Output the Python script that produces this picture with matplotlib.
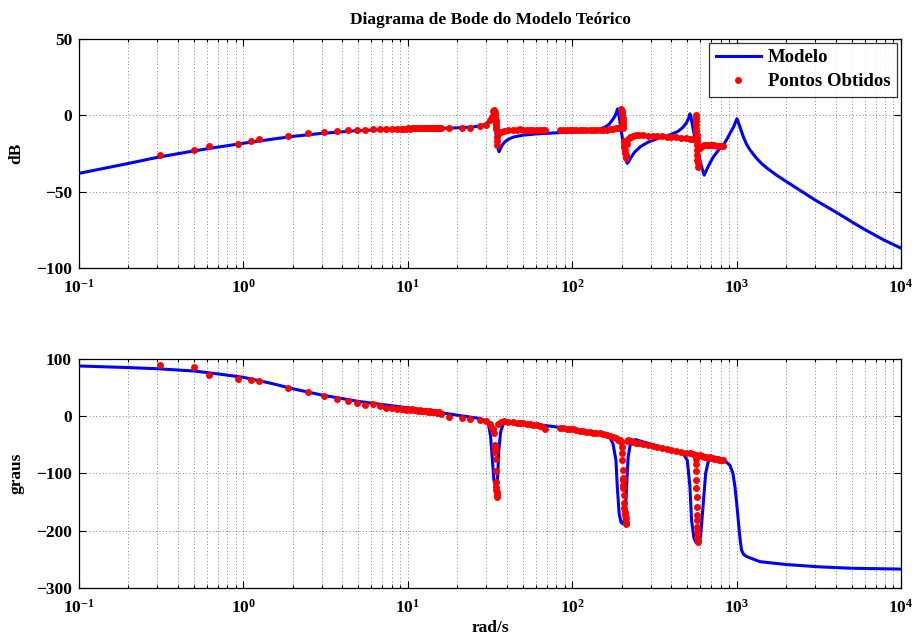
import matplotlib
matplotlib.use('Agg')
import matplotlib.pyplot as plt
from matplotlib.ticker import LogLocator, NullFormatter, FixedLocator, FixedFormatter

plt.rcParams['font.family'] = ['Liberation Serif', 'DejaVu Serif']
plt.rcParams['font.weight'] = 'bold'
plt.rcParams['mathtext.fontset'] = 'custom'
plt.rcParams['mathtext.rm'] = 'Liberation Serif:bold'
plt.rcParams['mathtext.bf'] = 'Liberation Serif:bold'
plt.rcParams['mathtext.it'] = 'Liberation Serif:bold'
plt.rcParams['mathtext.default'] = 'rm'
plt.rcParams['axes.unicode_minus'] = True

# ---------------- data ----------------
title = 'Diagrama de Bode do Modelo Teórico'
ylabel_mag = 'dB'
ylabel_ph = 'graus'
xlabel = 'rad/s'
legend_labels = ['Modelo', 'Pontos Obtidos']

model_w_mag = [0.1, 0.2, 0.3, 0.5, 0.7, 1.0, 1.5, 2.0, 3.0, 5.0, 7.0, 10, 15, 20, 25, 28, 30,
               31.5, 32.3, 32.8, 33.1, 33.4, 33.8, 34.3, 34.8, 35.3, 35.9, 36.5, 37.5, 39, 41,
               44, 50, 60, 75, 90, 110, 130, 145, 158, 168, 177, 182, 186, 188.5, 191, 195,
               200, 206, 212, 216, 220, 228, 240, 260, 290, 340, 400, 440, 470, 495, 510,
               520, 527, 540, 560, 585, 610, 635, 655, 690, 722, 780, 829, 880, 920, 955,
               985, 1005, 1020, 1048, 1098, 1150, 1206, 1270, 1324, 1420, 1524, 1750, 2000,
               3006, 4036, 5026, 6064, 7910, 10000]
model_db = [-38.0, -31.5, -27.5, -23.3, -20.8, -18.3, -15.6, -13.8, -11.8, -10.0, -9.4, -8.9,
            -8.6, -8.2, -7.6, -6.8, -5.5, -3.5, -1.0, 1.5, 3.0, 1.5, -4.0, -11.0, -17.0, -21.5,
            -23.8, -22.0, -19.5, -17.3, -15.6, -14.2, -13.0, -12.2, -11.6, -11.2, -10.8, -10.2,
            -9.2, -7.8, -5.8, -2.5, -0.5, 2.0, 4.2, 2.0, -4.0, -12.0, -21.0, -28.0, -31.5,
            -30.5, -27.5, -24.0, -20.5, -17.5, -14.8, -12.5, -10.5, -8.0, -5.0, -2.0, 1.0,
            -0.5, -7.0, -16.0, -25.0, -33.0, -39.2, -36.0, -31.0, -27.2, -22.5, -19.6, -15.0,
            -11.0, -8.0, -4.5, -2.2, -4.0, -7.6, -14.0, -19.0, -22.6, -25.8, -28.2, -31.6,
            -34.4, -39.2, -43.3, -55.5, -63.5, -69.8, -75.0, -81.8, -87.0]

model_w_ph = [0.1, 0.2, 0.3, 0.5, 0.7, 1.0, 1.5, 2.0, 3.0, 5.0, 6.8, 10.8, 17.2, 27.5, 30.0,
              30.9, 31.9, 32.6, 33.4, 34.4, 35.2, 35.8, 36.7, 38, 41.8, 55, 70, 88, 110, 134,
              155, 169, 177, 184.5, 188, 193, 198, 203, 208, 210, 214, 219, 226, 241, 280,
              341, 420, 473, 501, 520, 532, 550, 565, 576, 590, 604, 627, 648, 671, 720, 780,
              829, 910, 950, 977, 1000, 1023, 1050, 1072, 1100, 1150, 1386, 2000, 3162, 5000,
              10000]
model_deg = [87.8, 85.0, 83.0, 79.0, 74.0, 68.0, 57.0, 48.0, 37.0, 26.0, 21.0, 13.4, 4.7, -4.0,
             -8.0, -12.8, -36.0, -71.0, -111.6, -128.0, -106.0, -59.0, -27.3, -14.0, -10.0,
             -12.8, -16.5, -20.3, -24.5, -27.3, -32.0, -37.2, -47.7, -76.7, -123.0, -170.0,
             -185.0, -188.0, -180.0, -175.6, -123.0, -71.0, -47.7, -40.7, -46.0, -53.5, -60.0,
             -65.0, -76.7, -123.0, -181.0, -213.0, -220.0, -222.0, -218.0, -210.5, -152.0,
             -100.0, -80.0, -71.0, -72.5, -75.6, -85.5, -100.0, -123.0, -150.0, -181.0, -215.0,
             -234.0, -241.0, -245.0, -254.0, -259.0, -263.0, -265.5, -267.0]

pts_w = [0.313, 0.498, 0.622, 0.929, 1.12, 1.245, 1.87, 2.48, 3.11, 3.71, 4.33, 4.93, 5.52,
         6.14, 6.73, 7.39, 8.0, 8.57,
         9.1, 9.4, 9.7, 10.0, 10.3, 10.6, 10.9, 11.2, 11.5, 11.8, 12.1, 12.4, 12.7, 13.0, 13.3,
         13.6, 13.9, 14.2, 14.5, 14.8, 15.1, 15.4, 15.7, 16.0,
         17.9, 21.5, 23.9, 27.5, 29.9, 31.6, 32.6, 33.1,
         33.5, 33.8, 34.0, 34.1, 34.2, 34.3, 34.4, 34.5, 34.6, 34.7, 34.9, 35.1,
         35.5, 36.7, 38.4, 40.8, 43.8, 46.0, 48.1, 50.5, 52.8, 55.3, 58.0, 60.8, 63.7, 66.0,
         68.3, 84.2, 88.0, 92.4, 96.8, 101.5, 106, 111, 116, 122, 128, 134, 140, 147, 154, 162,
         169, 177, 184, 189, 195,
         199, 200, 201, 202, 203, 203.5, 204, 204.5, 205, 206, 207, 208, 209, 210, 211, 212, 213,
         215, 219, 224, 228, 235, 245, 255, 270, 290, 310, 330, 350, 375, 400, 430, 460, 490,
         520, 545,
         565, 566, 567, 568, 569, 570, 571, 572, 573, 574, 575, 576, 578, 580, 582,
         600, 615, 630, 650, 670, 690, 710, 730, 755, 780, 805, 829]
pts_db = [-26.1, -22.9, -20.3, -18.5, -16.8, -15.7, -13.3, -11.8, -10.9, -10.5, -9.8, -9.6, -9.4,
          -9.2, -9.0, -8.9, -8.9, -8.8,
          -8.8, -8.7, -8.7, -8.6, -8.7, -8.6, -8.5, -8.6, -8.5, -8.5, -8.4, -8.5, -8.4, -8.4,
          -8.3, -8.4, -8.3, -8.3, -8.2, -8.3, -8.2, -8.2, -8.1, -8.2,
          -8.3, -8.2, -8.0, -7.2, -6.1, -3.3, -0.8, 2.6,
          3.3, 2.0, 0.5, -1.5, -3.0, -4.5, -6.0, -7.5, -8.7, -19.6, -16.5, -14.0,
          -12.5, -11.0, -10.5, -9.8, -9.4, -9.3, -9.2, -9.3, -9.4, -9.4, -9.6, -9.5, -9.6, -9.6,
          -9.6, -9.6, -9.7, -9.8, -9.7, -9.6, -9.6, -9.6, -9.5, -9.4, -9.5, -9.6, -9.5, -9.4,
          -9.4, -9.4, -9.2, -8.7, -8.4, -8.0, -7.5,
          4.3, 3.0, 1.5, 0.0, -2.0, -4.0, -5.5, -7.0, -8.0, -17.0, -19.5, -21.0, -23.0, -24.5,
          -26.0, -27.0, -28.0,
          -18.5, -15.2, -14.5, -14.1, -13.5, -13.2, -13.1, -13.2, -13.4, -13.5, -13.6, -13.8,
          -14.0, -14.2, -14.5, -14.8, -15.0, -15.2, -15.5,
          0.0, -2.0, -4.0, -6.5, -9.0, -11.0, -13.0, -15.0, -17.0, -19.6, -22.8, -26.0, -29.0,
          -31.0, -33.7,
          -21.7, -20.0, -19.6, -19.4, -19.3, -19.4, -19.5, -19.6, -19.8, -20.0, -20.0, -20.0]
pts_deg = [89.5, 86.0, 72.0, 64.4, 62.7, 61.0, 48.7, 41.7, 35.3, 30.6, 27.1, 23.0, 19.5,
           21.3, 17.8, 14.9, 13.8, 12.6,
           12.0, 13.5, 11.5, 12.5, 10.8, 11.8, 10.2, 11.0, 9.6, 10.4, 9.0, 9.8, 8.5, 9.2, 7.8,
           8.6, 7.2, 8.0, 6.6, 7.4, 6.0, 6.8, 5.0, 4.5,
           -1.0, -3.0, -4.0, -6.0, -8.0, -14.0, -20.0, -21.5,
           -30.0, -51.0, -57.0, -62.0, -74.0, -95.0, -115.0, -123.0, -128.0, -132.0, -137.0,
           -141.0,
           -12.8, -10.0, -8.7, -9.3, -10.5, -11.0, -11.6, -12.2, -12.8, -13.6, -14.5, -15.8,
           -17.4, -19.0, -23.0, -19.8, -20.6, -21.5, -22.2, -23.0, -24.0, -25.0, -25.8, -26.7,
           -27.6, -28.5, -29.2, -30.0, -31.5, -33.0, -34.5, -36.0, -38.5, -40.7, -42.0,
           -45.0, -53.5, -65.0, -77.0, -94.0, -108.7, -111.6, -120.0, -126.0, -138.0, -152.0,
           -161.0, -167.0, -172.7, -178.5, -184.0, -188.0,
           -44.0, -42.0, -43.0, -44.0, -45.0, -46.0, -47.0, -48.0, -50.0, -52.0, -53.0, -55.0,
           -57.0, -58.5, -60.0, -62.0, -63.5, -65.0, -66.0,
           -68.0, -74.0, -82.6, -95.0, -111.6, -125.0, -141.0, -158.0, -172.7, -181.0, -193.0,
           -202.0, -210.5, -216.0, -219.0,
           -68.0, -70.0, -71.0, -72.0, -73.0, -72.0, -73.5, -74.0, -75.0, -76.0, -76.5, -77.0]

xticks = [1e-1, 1e0, 1e1, 1e2, 1e3, 1e4]
xticklabels = [r'$10^{-1}$', r'$10^{0}$', r'$10^{1}$', r'$10^{2}$', r'$10^{3}$', r'$10^{4}$']
yticks_mag = [-100, -50, 0, 50]
yticks_ph = [-300, -200, -100, 0, 100]

# ---------------- figure ----------------
W, H = 913, 641
fig = plt.figure(figsize=(W / 100, H / 100), dpi=100)
ax1 = fig.add_axes([79 / W, 1 - 268 / H, 822 / W, 229 / H])
ax2 = fig.add_axes([79 / W, 1 - 588 / H, 822 / W, 229 / H])

line_kw = dict(color=(0, 0, 1), lw=2.2, zorder=3)
pt_kw = dict(color=(1, 0, 0), marker='o', ls='none', ms=5.0, mew=0, zorder=4)

ax1.semilogx(model_w_mag, model_db, label=legend_labels[0], **line_kw)
ax1.semilogx(pts_w, pts_db, label=legend_labels[1], **pt_kw)
ax2.semilogx(model_w_ph, model_deg, **line_kw)
ax2.semilogx(pts_w, pts_deg, **pt_kw)

for ax, yt in ((ax1, yticks_mag), (ax2, yticks_ph)):
    ax.set_xlim(xticks[0], xticks[-1])
    ax.set_ylim(yt[0], yt[-1])
    ax.xaxis.set_major_locator(FixedLocator(xticks))
    ax.xaxis.set_major_formatter(FixedFormatter(xticklabels))
    ax.xaxis.set_minor_locator(LogLocator(base=10, subs=range(2, 10), numticks=20))
    ax.xaxis.set_minor_formatter(NullFormatter())
    ax.set_yticks(yt)
    ax.tick_params(which='both', direction='in', top=True, right=True, labelsize=12.5,
                   width=0.8)
    ax.tick_params(axis='x', which='major', pad=8)
    ax.tick_params(axis='y', which='major', pad=5)
    ax.tick_params(which='major', length=5)
    ax.tick_params(which='minor', length=2.5)
    for lab in ax.get_xticklabels() + ax.get_yticklabels():
        lab.set_fontweight('bold')
    ax.grid(True, which='major', axis='both', color='0.35', lw=0.6, ls=(0, (1, 3)))
    ax.grid(True, which='minor', axis='x', color='0.35', lw=0.6, ls=(0, (1, 3)))
    for s in ax.spines.values():
        s.set_linewidth(0.9)
        s.set_color('k')

ax1.set_title(title, fontsize=12.5, fontweight='bold', pad=11)
ax1.set_ylabel(ylabel_mag, fontsize=12.5, fontweight='bold')
ax2.set_ylabel(ylabel_ph, fontsize=12.5, fontweight='bold')
ax1.yaxis.set_label_coords(-55 / 822, 0.5)
ax2.yaxis.set_label_coords(-55 / 822, 0.5)
ax2.set_xlabel(xlabel, fontsize=12.5, fontweight='bold')
ax2.xaxis.set_label_coords(0.5, -32 / 229)

leg = ax1.legend(loc='upper right', fontsize=13.5, frameon=True, fancybox=False,
                 borderaxespad=0.2, handlelength=2.4, handletextpad=0.4,
                 borderpad=0.35, labelspacing=0.35, numpoints=1)
leg.get_frame().set_edgecolor('k')
leg.get_frame().set_linewidth(0.9)
for t in leg.get_texts():
    t.set_fontweight('bold')

fig.savefig('out.png', dpi=100)
